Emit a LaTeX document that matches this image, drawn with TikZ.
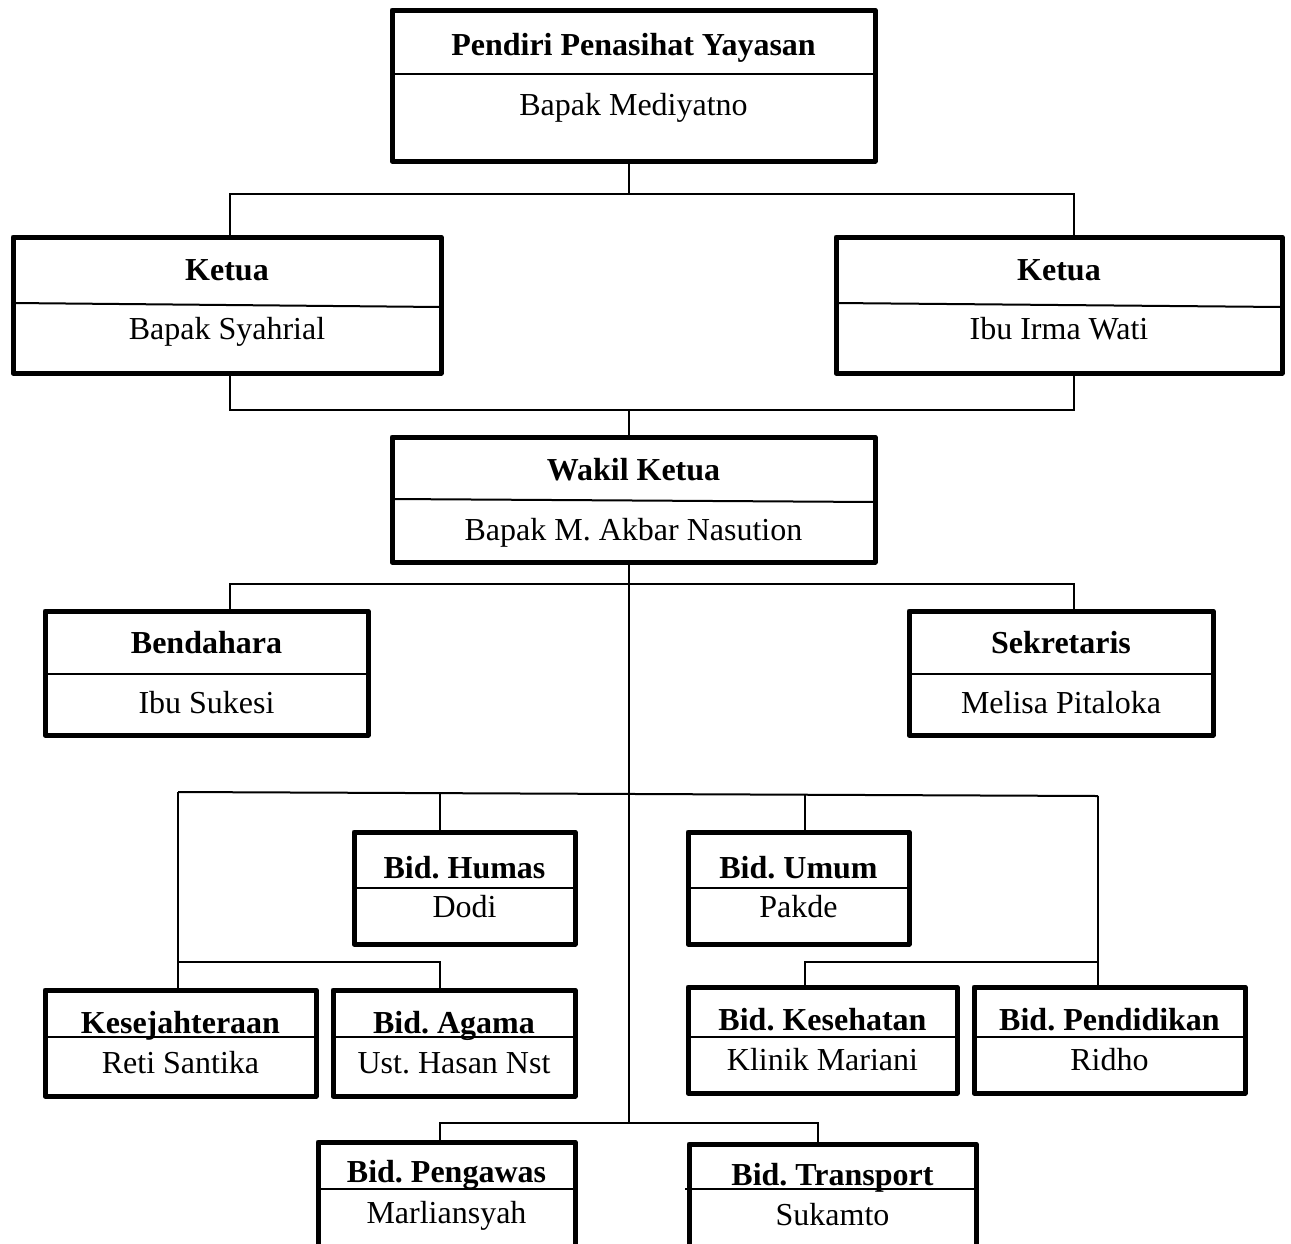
\documentclass[tikz,border=0pt]{standalone}
\usepackage{fontspec}
\setmainfont{Liberation Serif}
\frenchspacing
\begin{document}
\begin{tikzpicture}[x=1pt,y=-1pt,
  obox/.style={draw, line width=5pt, inner sep=0pt, outer sep=0pt, line join=round},
  divl/.style={line width=2pt},
  conn/.style={line width=2pt},
  ttl/.style={font=\fontsize{32}{38}\selectfont\bfseries, anchor=base, inner sep=0pt},
  nm/.style={font=\fontsize{32}{38}\selectfont, anchor=base, inner sep=0pt}]
\useasboundingbox (0,0) rectangle (1291,1243);
\clip (0,0) rectangle (1291,1243);
\fill[white] (0,0) rectangle (1291,1243);

\newcommand\orgbox[5]{\node[obox, minimum width={#4-#2}, minimum height={#5-#3}] (#1) at ({(#2+#4)/2},{(#3+#5)/2}) {};}

% boxes
\orgbox{top}{392}{10}{875}{161}
\orgbox{k1}{13}{237}{441}{373}
\orgbox{k2}{836}{237}{1282}{373}
\orgbox{wk}{392}{437}{875}{562}
\orgbox{bd}{45}{611}{368}{735}
\orgbox{sk}{909}{611}{1213}{735}
\orgbox{hm}{354}{832}{575}{944}
\orgbox{um}{688}{832}{909}{944}
\orgbox{ks}{45}{990}{316}{1096}
\orgbox{ag}{333}{990}{575}{1096}
\orgbox{kh}{688}{987}{957}{1093}
\orgbox{pd}{974}{987}{1245}{1093}
\orgbox{pg}{318}{1142}{575}{1262}
\orgbox{tr}{689}{1144}{976}{1262}

% dividers
\draw[divl] (top.west |- 0,74) -- (top.east |- 0,74);
\draw[divl] (k1.west |- 0,303) -- (k1.east |- 0,307);
\draw[divl] (k2.west |- 0,303) -- (k2.east |- 0,307);
\draw[divl] (wk.west |- 0,499) -- (wk.east |- 0,502);
\draw[divl] (bd.west |- 0,674) -- (bd.east |- 0,674);
\draw[divl] (sk.west |- 0,674) -- (sk.east |- 0,674);
\draw[divl] (hm.west |- 0,888) -- (hm.east |- 0,888);
\draw[divl] (um.west |- 0,888) -- (um.east |- 0,888);
\draw[divl] (ks.west |- 0,1037) -- (ks.east |- 0,1037);
\draw[divl] (ag.west |- 0,1037) -- (ag.east |- 0,1037);
\draw[divl] (kh.west |- 0,1037) -- (kh.east |- 0,1037);
\draw[divl] (pd.west |- 0,1037) -- (pd.east |- 0,1037);
\draw[divl] (pg.west |- 0,1189) -- (pg.east |- 0,1189);
\draw[divl] (tr.west |- 0,1189) ++(-4,0) -- (tr.east |- 0,1189);

% texts
\node[ttl] (top-t) at (top.center |- 0,55) {Pendiri Penasihat Yayasan};
\node[nm]  (top-n) at (top.center |- 0,115) {Bapak Mediyatno};
\node[ttl] (k1-t) at (k1.center |- 0,280) {Ketua};
\node[nm]  (k1-n) at (k1.center |- 0,339) {Bapak Syahrial};
\node[ttl] (k2-t) at (k2.center |- 0,280) {Ketua};
\node[nm]  (k2-n) at (k2.center |- 0,339) {Ibu Irma Wati};
\node[ttl] (wk-t) at (wk.center |- 0,480) {Wakil Ketua};
\node[nm]  (wk-n) at (wk.center |- 0,540) {Bapak M. Akbar Nasution};
\node[ttl] (bd-t) at (bd.center |- 0,653) {Bendahara};
\node[nm]  (bd-n) at (bd.center |- 0,713) {Ibu Sukesi};
\node[ttl] (sk-t) at (sk.center |- 0,653) {Sekretaris};
\node[nm]  (sk-n) at (sk.center |- 0,713) {Melisa Pitaloka};
\node[ttl] (hm-t) at (hm.center |- 0,878) {Bid. Humas};
\node[nm]  (hm-n) at (hm.center |- 0,917) {Dodi};
\node[ttl] (um-t) at (um.center |- 0,878) {Bid. Umum};
\node[nm]  (um-n) at (um.center |- 0,917) {Pakde};
\node[ttl] (ks-t) at (ks.center |- 0,1033) {Kesejahteraan};
\node[nm]  (ks-n) at (ks.center |- 0,1073) {Reti Santika};
\node[ttl] (ag-t) at (ag.center |- 0,1033) {Bid. Agama};
\node[nm]  (ag-n) at (ag.center |- 0,1073) {Ust. Hasan Nst};
\node[ttl] (kh-t) at (kh.center |- 0,1030) {Bid. Kesehatan};
\node[nm]  (kh-n) at (kh.center |- 0,1070) {Klinik Mariani};
\node[ttl] (pd-t) at (pd.center |- 0,1030) {Bid. Pendidikan};
\node[nm]  (pd-n) at (pd.center |- 0,1070) {Ridho};
\node[ttl] (pg-t) at (pg.center |- 0,1182) {Bid. Pengawas};
\node[nm]  (pg-n) at (pg.center |- 0,1223) {Marliansyah};
\node[ttl] (tr-t) at (tr.center |- 0,1185) {Bid. Transport};
\node[nm]  (tr-n) at (tr.center |- 0,1225) {Sukamto};

% connectors
\draw[conn] (top.south -| 629,0) -- (629,194);
\draw[conn] (k1.north -| 230,0) |- (629,194) -| (k2.north -| 1074,0);
\draw[conn] (k1.south -| 230,0) |- (629,410) -| (k2.south -| 1074,0);
\draw[conn] (629,410) -- (wk.north -| 629,0);
\draw[conn] (wk.south -| 629,0) -- (629,1123);
\draw[conn] (bd.north -| 230,0) |- (629,584) -| (sk.north -| 1074,0);
\draw[conn] (178,792) -- (1098,796);
\draw[conn] (ks.north -| 178,0) -- (178,792);
\draw[conn] (ag.north -| 440,0) |- (178,962);
\draw[conn] (hm.north -| 440,0) -- (440,793.1);
\draw[conn] (um.north -| 805,0) -- (805,794.7);
\draw[conn] (pd.north -| 1098,0) -- (1098,796);
\draw[conn] (kh.north -| 805,0) |- (1098,962);
\draw[conn] (pg.north -| 440,0) |- (629,1123) -| (tr.north -| 818,0);
\end{tikzpicture}
\end{document}
